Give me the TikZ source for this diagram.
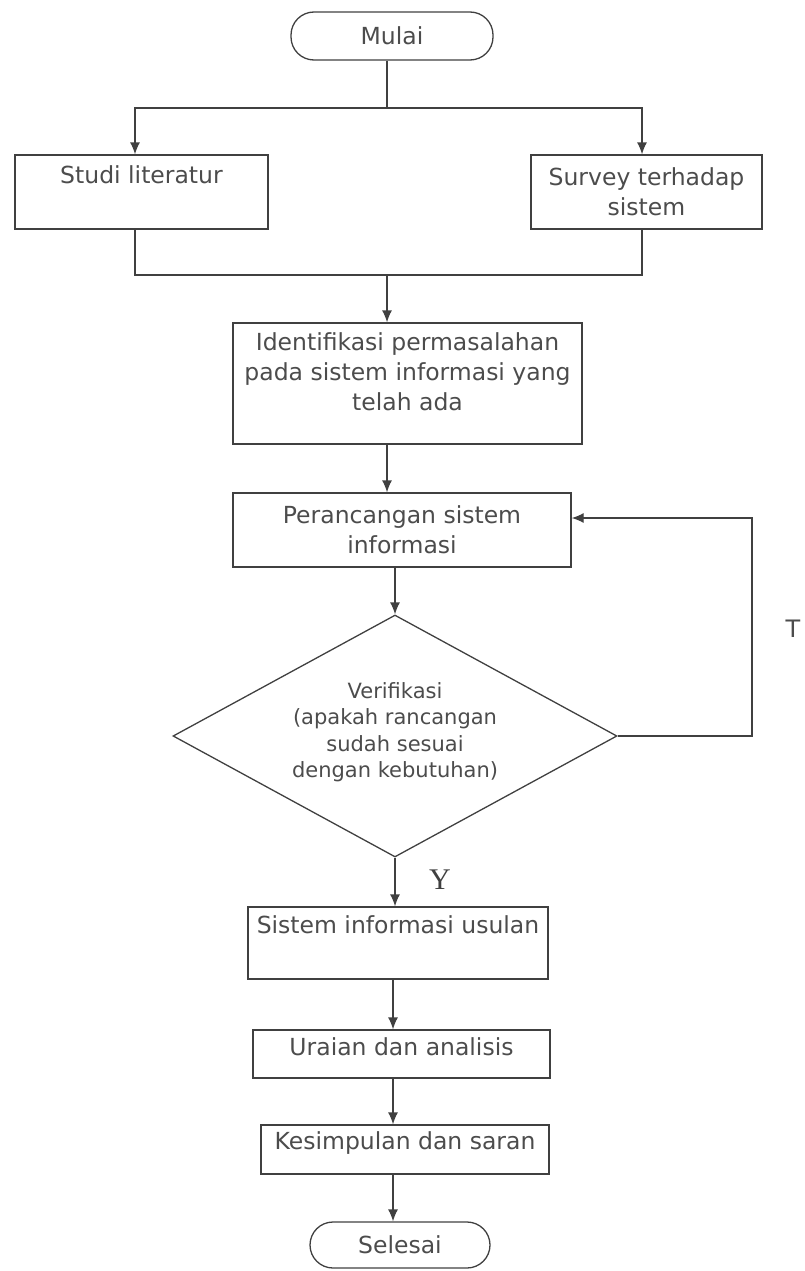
\documentclass[tikz,border=0pt]{standalone}
\usepackage{fontspec}
\setmainfont{DejaVu Sans}
\newfontfamily\serifY{Liberation Serif}
\usetikzlibrary{arrows.meta,shapes.geometric}
\begin{document}
\begin{tikzpicture}[x=1pt,y=-1pt,
  line/.style={draw=black!75, line width=1.3pt},
  box/.style={line, rectangle, inner sep=0pt},
  term/.style={line, rectangle, rounded corners=23pt, inner sep=0pt},
  txt/.style={text=black!70, font=\fontsize{23.5}{30}\selectfont, align=center, inner sep=0pt},
  dtxt/.style={text=black!70, font=\fontsize{21}{26.5}\selectfont, align=center, inner sep=0pt},
  arr/.style={line, -{Latex[length=12pt,width=10pt]}},
]
\useasboundingbox (0,0) rectangle (805,1271);

% nodes
\node[term, txt, minimum width=202pt, minimum height=48pt] (mulai) at (392,36) {Mulai};
\node[box, minimum width=253pt, minimum height=74pt] (studi) at (141.5,192) {};
\node[txt] (studiT) at ([yshift=-20pt]studi.north) {Studi literatur};
\node[box, txt, minimum width=231pt, minimum height=74pt] (survey) at (646.5,192) {Survey terhadap\\sistem};
\node[box, minimum width=349pt, minimum height=121pt] (idf) at (407.5,383.5) {};
\node[txt] (idfT) at ([yshift=12pt]idf.center) {Identifikasi permasalahan\\pada sistem informasi yang\\telah ada};
\node[box, txt, minimum width=338pt, minimum height=74pt] (peran) at (402,530) {Perancangan sistem\\informasi};
\node[line, diamond, aspect=1.83, inner sep=0pt, minimum width=444pt, minimum height=242pt] (dia) at (395,736) {};
\node[dtxt] (diaT) at ([yshift=4pt]dia.center) {Verifikasi\\(apakah rancangan\\sudah sesuai\\dengan kebutuhan)};
\node[box, minimum width=300pt, minimum height=72pt] (sis) at (398,943) {};
\node[txt] (sisT) at ([yshift=-18pt]sis.north) {Sistem informasi usulan};
\node[box, minimum width=297pt, minimum height=48pt] (ur) at (401.5,1054) {};
\node[txt] (urT) at ([yshift=7pt]ur.center) {Uraian dan analisis};
\node[box, minimum width=288pt, minimum height=49pt] (kes) at (405,1149.5) {};
\node[txt] (kesT) at ([yshift=6pt]kes.center) {Kesimpulan dan saran};
\node[term, txt, minimum width=180pt, minimum height=46pt] (sel) at (400,1245) {Selesai};

\node[text=black!70, font=\fontsize{24}{28}\selectfont, inner sep=0pt] (T) at (793,629) {T};
\node[text=black!75, font=\serifY\fontsize{30}{34}\selectfont, inner sep=0pt] (Y) at (440,880) {Y};

% connectors
\coordinate (s1) at (387,108);
\coordinate (jl) at (135,108);
\coordinate (jr) at (642,108);
\coordinate (bl) at (135,275);
\coordinate (br) at (642,275);
\coordinate (s2) at (387,275);
\coordinate (s3) at (393,0);
\coordinate (lc) at (752,518);

\draw[line] (mulai.south -| s1) -- (s1);
\draw[arr] (s1) -- (jl) -- (studi.north -| jl);
\draw[arr] (s1) -- (jr) -- (survey.north -| jr);
\draw[line] (studi.south -| bl) -- (bl) -- (br) -- (survey.south -| br);
\draw[arr] (s2) -- (idf.north -| s2);
\draw[arr] (idf.south -| s2) -- (peran.north -| s2);
\draw[arr] (peran.south -| dia.north) -- (dia.north);
\draw[arr] (dia.east) -| (lc) -- (peran.east |- lc);
\draw[arr] (dia.south) -- (sis.north -| dia.south);
\draw[arr] (sis.south -| s3) -- (ur.north -| s3);
\draw[arr] (ur.south -| s3) -- (kes.north -| s3);
\draw[arr] (kes.south -| s3) -- (sel.north -| s3);
\end{tikzpicture}
\end{document}
